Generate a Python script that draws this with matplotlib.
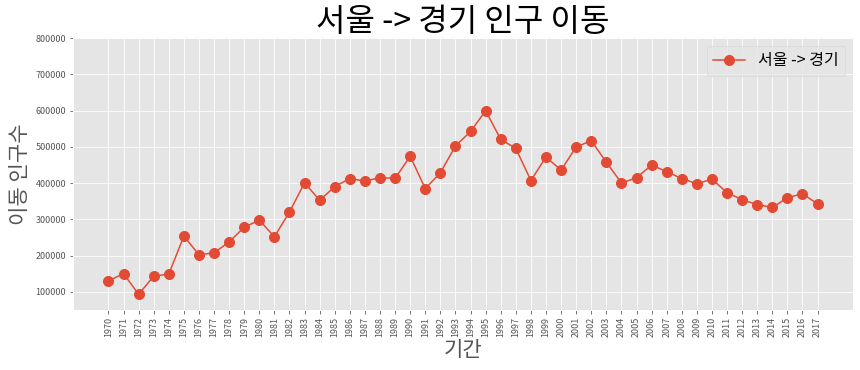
import matplotlib
matplotlib.use("Agg")
import matplotlib.pyplot as plt

plt.style.use('ggplot')
plt.rcParams['font.family'] = ['Noto Sans CJK KR', 'DejaVu Sans']
plt.rcParams['axes.unicode_minus'] = False

years = [str(y) for y in range(1970, 2018)]
values = [130149, 150313, 93333, 143234, 149045, 253705, 202276, 207722, 237684, 278411,
          297539, 252073, 320174, 400875, 352238, 390265, 412535, 405220, 415174, 412933,
          473889, 384714, 428344, 502223, 542204, 599411, 520566, 495454, 407050, 471841,
          435573, 499575, 516765, 457656, 400206, 414621, 449632, 431637, 412408, 398282,
          410735, 373771, 354135, 340801, 332785, 359337, 370760, 342433]
series_label = '서울 -> 경기'

W, H, DPI = 860, 370, 72
fig = plt.figure(figsize=(W / DPI, H / DPI), dpi=DPI)
ax = fig.add_axes([73 / W, (H - 310) / H, 780 / W, 272 / H])

ax.plot(years, values, marker='o', markersize=10)
ax.set_title('서울 -> 경기 인구 이동', size=32, pad=4)
ax.set_xlabel('기간', size=21, labelpad=2)
ax.set_ylabel('이동 인구수', size=21, labelpad=4)
ax.legend(labels=[series_label], loc='best', fontsize=16)
ax.set_ylim(50000, 800000)
plt.setp(ax.get_xticklabels(), rotation=90)
ax.tick_params(labelsize=9)

fig.savefig('out.png', dpi=DPI)
